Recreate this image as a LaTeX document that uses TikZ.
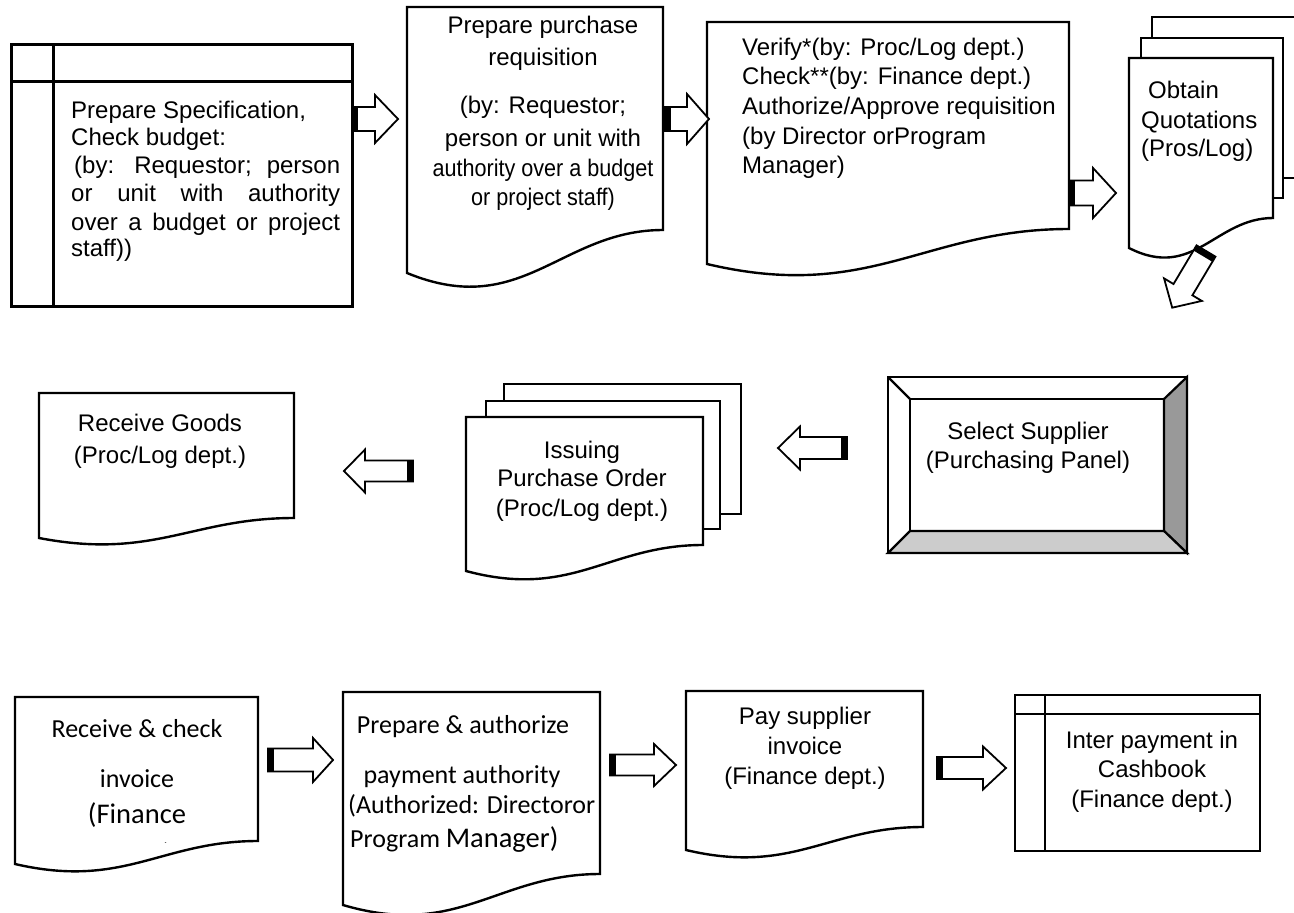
\documentclass[tikz,border=0pt]{standalone}
\usepackage{fontspec}
\setmainfont{Liberation Sans}
\newfontfamily\calib{Carlito}
\definecolor{bevdark}{HTML}{999999}
\definecolor{bevlight}{HTML}{CCCCCC}
\tikzset{
  docline/.style={line width=2.4pt, fill=white, line join=miter},
  storeline/.style={line width=3pt},
  arrowline/.style={line width=1.8pt, fill=white, line join=miter},
  txt/.style={inner sep=0pt, font=\fontsize{24}{29}\selectfont},
  ctxt/.style={inner sep=0pt, font=\calib\fontsize{26}{30}\selectfont},
}
% document shape: L R T RB LB (pixels, y downwards)
\newcommand\docshape[5]{%
  \pgfmathsetmacro\dw{#2-#1}\pgfmathsetmacro\dh{#5-#4}%
  \draw[docline] (#1,-#3) -- (#2,-#3) -- (#2,-#4)
    .. controls ({#1+0.6*\dw},{-#4}) and ({#1+0.45*\dw},{-(#5+1.1*\dh)}) .. (#1,-#5) -- cycle;}
% block arrow: tail coordinate, angle, length, head length, shaft half, head half
\newcommand\blockarrow[6]{%
  \begin{scope}[shift={(#1)},rotate=#2]
    \draw[arrowline] (0,-#5) -- ({#3-#4},-#5) -- ({#3-#4},-#6) -- (#3,0) -- ({#3-#4},#6) -- ({#3-#4},#5) -- (0,#5) -- cycle;
    \fill (0,-#5) rectangle (6,#5);
  \end{scope}}
\begin{document}
\begin{tikzpicture}[x=1pt,y=1pt]
\useasboundingbox (0,0) rectangle (1294,-913);
\clip (0,0) rectangle (1294,-913);

% ---------- Row 1 ----------
% internal storage box
\draw[storeline] (11,-44) rectangle (352,-306);
\draw[storeline] (53,-44) -- (53,-306);
\draw[storeline] (11,-81) -- (352,-81);
\node[txt,anchor=base west] (s1a) at (71,-118) {Prepare Specification,};
\node[txt,anchor=base west] (s1b) at (71,-145) {Check budget:};
\node[txt,anchor=base west] (s1c) at (74,-173) {\makebox[266pt][s]{(by: Requestor; person}};
\node[txt,anchor=base west] (s1d) at (71,-201) {\makebox[269pt][s]{or unit with authority}};
\node[txt,anchor=base west] (s1e) at (71,-230) {\makebox[269pt][s]{over a budget or project}};
\node[txt,anchor=base west] (s1f) at (71,-256) {staff))};

% prepare purchase requisition
\docshape{407}{663}{7}{230}{273}
\node[txt,anchor=base] (d2a) at (543,-33) {Prepare purchase};
\node[txt,anchor=base] (d2b) at (543,-65) {requisition};
\node[txt,anchor=base] (d2c) at (543,-113) {(by: Requestor;};
\node[txt,anchor=base] (d2d) at (543,-146) {person or unit with};
\node[txt,anchor=base] (d2e) at (543,-176) {\scalebox{0.9}[1]{authority over a budget}};
\node[txt,anchor=base] (d2f) at (543,-205) {\scalebox{0.9}[1]{or project staff)}};

% verify / check / authorize
\docshape{707}{1069}{22}{229}{264}
\node[txt,anchor=base west] (d3a) at (742,-55) {Verify*(by: Proc/Log dept.)};
\node[txt,anchor=base west] (d3b) at (742,-84) {Check**(by: Finance dept.)};
\node[txt,anchor=base west] (d3c) at (742,-114) {Authorize/Approve requisition};
\node[txt,anchor=base west] (d3d) at (742,-144) {(by Director orProgram};
\node[txt,anchor=base west] (d3e) at (742,-173) {Manager)};

% obtain quotations (multi-document)
\draw[docline] (1152,-17) rectangle (1298,-178);
\draw[docline] (1141,-38) rectangle (1283,-198);
\docshape{1129}{1273}{58}{218}{248}
\node[txt,anchor=base west] (q1) at (1148,-98) {Obtain};
\node[txt,anchor=base west] (q2) at (1141,-128) {Quotations};
\node[txt,anchor=base west] (q3) at (1141,-156) {(Pros/Log)};

% arrows row 1
\coordinate (t1) at (352,-119);
\coordinate (t2) at (665,-119);
\coordinate (t3) at (1069,-193);
\coordinate (t4) at (1206,-251);
\blockarrow{t1}{0}{46}{23}{12}{24}
\blockarrow{t2}{0}{44}{22}{12}{25}
\blockarrow{t3}{0}{47}{23}{12.5}{25}
\blockarrow{t4}{-120.8}{66}{21}{11}{22}

% ---------- Row 2 ----------
% receive goods
\docshape{39}{294}{393}{518}{538}
\node[txt,anchor=base] (g1) at (160,-431) {Receive Goods};
\node[txt,anchor=base] (g2) at (160,-463) {(Proc/Log dept.)};

% issuing purchase order (multi-document)
\draw[docline] (504,-384) rectangle (741,-514);
\draw[docline] (486,-401) rectangle (720,-529);
\docshape{466}{703}{417}{545}{571}
\node[txt,anchor=base] (p1) at (582,-458) {Issuing};
\node[txt,anchor=base] (p2) at (582,-486) {Purchase Order};
\node[txt,anchor=base] (p3) at (582,-516) {(Proc/Log dept.)};

% select supplier (bevel)
\fill[white] (888,-377) rectangle (1187,-553);
\filldraw[line width=2.2pt, fill=bevdark, line join=miter] (1164,-399) -- (1187,-377) -- (1187,-553) -- (1164,-531) -- cycle;
\filldraw[line width=2.2pt, fill=bevlight, line join=miter] (910,-531) -- (1164,-531) -- (1187,-553) -- (888,-553) -- cycle;
\draw[line width=2.2pt] (888,-377) -- (910,-399);
\draw[line width=2.2pt] (888,-377) rectangle (1187,-553);
\draw[line width=2.2pt] (910,-399) rectangle (1164,-531);
\node[txt,anchor=base] (ss1) at (1028,-439) {Select Supplier};
\node[txt,anchor=base] (ss2) at (1028,-468) {(Purchasing Panel)};

% arrows row 2
\coordinate (t5) at (413,-471);
\coordinate (t6) at (847,-448);
\blockarrow{t5}{180}{69}{21}{10.5}{21.5}
\blockarrow{t6}{180}{69}{22}{11}{21.5}

% ---------- Row 3 ----------
% receive & check invoice
\docshape{15}{258}{697}{841}{864}
\node[ctxt,anchor=base] (r1) at (137,-737) {Receive \& check};
\node[ctxt,anchor=base] (r2) at (137,-787) {invoice};
\node[ctxt,anchor=base,font=\calib\fontsize{28.5}{32}\selectfont] (r3) at (137,-823) {(Finance};
\begin{scope}
  \clip (20,-800) rectangle (250,-842.5);
  \node[ctxt,anchor=base,font=\calib\fontsize{28.5}{32}\selectfont] (r4) at (137,-863) {dept.)};
\end{scope}

% prepare & authorize payment authority
\docshape{343}{600}{692}{874}{905}
\node[ctxt,anchor=base] (a1) at (463,-733) {Prepare \& authorize};
\node[ctxt,anchor=base] (a2) at (462,-783) {payment authority};
\node[ctxt,anchor=base west] (a3) at (348,-813) {(Authorized: Directoror};
\node[ctxt,anchor=base west] (a4) at (350,-847) {Program {\fontsize{28.5}{32}\selectfont Manager)}};

% pay supplier invoice
\docshape{686}{923}{691}{827}{850}
\node[txt,anchor=base] (y1) at (805,-724) {Pay supplier};
\node[txt,anchor=base] (y2) at (805,-754) {invoice};
\node[txt,anchor=base] (y3) at (805,-784) {(Finance dept.)};

% cashbook (internal storage)
\draw[line width=2.6pt] (1015,-695) rectangle (1260,-851);
\draw[line width=2.6pt] (1045,-695) -- (1045,-851);
\draw[line width=2.6pt] (1015,-714) -- (1260,-714);
\node[txt,anchor=base] (c1) at (1152,-748) {Inter payment in};
\node[txt,anchor=base] (c2) at (1152,-777) {Cashbook};
\node[txt,anchor=base] (c3) at (1152,-807) {(Finance dept.)};

% arrows row 3
\coordinate (t7) at (268,-760);
\coordinate (t8) at (610,-765);
\coordinate (t9) at (937,-768);
\blockarrow{t7}{0}{65}{20}{11.5}{22}
\blockarrow{t8}{0}{66}{22}{10.5}{21}
\blockarrow{t9}{0}{69}{23}{11}{21.5}
\end{tikzpicture}
\end{document}
